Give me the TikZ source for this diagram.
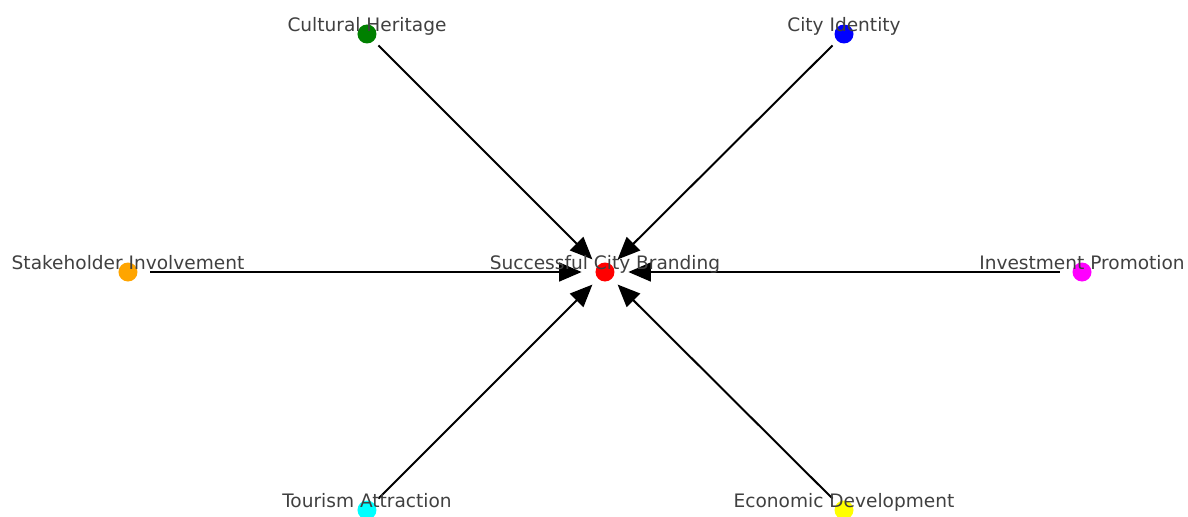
\documentclass[tikz,border=0pt]{standalone}
\usepackage{fontspec}
\setmainfont{DejaVu Sans}
\usepackage{tikz}
\usetikzlibrary{calc,arrows.meta}
\usepackage{xcolor}
\definecolor{mplgreen}{RGB}{0,128,0}
\definecolor{mplorange}{RGB}{255,165,0}
\definecolor{mplmagenta}{RGB}{255,0,255}
\definecolor{mplcyan}{RGB}{0,255,255}
\definecolor{mplyellow}{RGB}{255,255,0}

\tikzset{
  dot/.style={circle, inner sep=0pt, minimum size=0.475cm},
  lbl/.style={anchor=base, inner sep=0pt, text=black!75, font=\fontsize{13.2}{15}\selectfont},
  edge/.style={line width=1.4pt, -{Triangle[length=0.56cm,width=0.47cm]}, shorten <=0.31cm, shorten >=0.34cm},
  slant/.style={edge, shorten <=0.16cm, shorten >=0.2cm}
}

\begin{document}
\begin{tikzpicture}
\useasboundingbox (-15.125,-6.1) rectangle (14.575,6.8);
% hub and the six factors around it
\node [dot, fill=red] (brand) at (0,0) {};
\node [dot, fill=mplgreen] (heritage) at (-5.95,5.95) {};
\node [dot, fill=blue] (identity) at (5.975,5.95) {};
\node [dot, fill=mplorange] (stake) at (-11.925,0) {};
\node [dot, fill=mplmagenta] (invest) at (11.925,0) {};
\node [dot, fill=mplcyan] (tourism) at (-5.95,-5.95) {};
\node [dot, fill=mplyellow] (economy) at (5.975,-5.95) {};
% every factor points at the hub
\draw [slant] (heritage) -- (brand);
\draw [slant] (identity) -- (brand);
\draw [edge] (stake) -- (brand);
\draw [edge] (invest) -- (brand);
\draw [slant] (tourism) -- (brand);
\draw [slant] (economy) -- (brand);
% names sit just above the dots
\node [lbl] (brandtext) at ($(brand)+(0,0.06)$) {Successful City Branding};
\node [lbl] (heritagetext) at ($(heritage)+(0,0.06)$) {Cultural Heritage};
\node [lbl] (identitytext) at ($(identity)+(0,0.06)$) {City Identity};
\node [lbl] (staketext) at ($(stake)+(0,0.06)$) {Stakeholder Involvement};
\node [lbl] (investtext) at ($(invest)+(0,0.06)$) {Investment Promotion};
\node [lbl] (tourismtext) at ($(tourism)+(0,0.06)$) {Tourism Attraction};
\node [lbl] (economytext) at ($(economy)+(0,0.06)$) {Economic Development};
\end{tikzpicture}
\end{document}
